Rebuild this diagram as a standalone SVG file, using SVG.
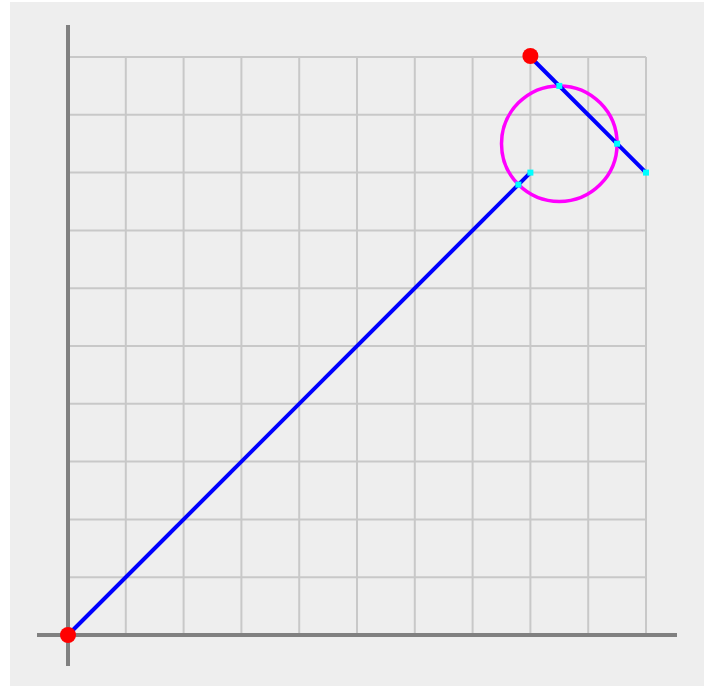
<svg xmlns="http://www.w3.org/2000/svg" width="712" height="686" viewBox="0 0 712 686">
<style>
.grid line{stroke:#c8c8c8;stroke-width:2}
.axis{stroke:#808080;stroke-width:4}
.seg{stroke:#0000ff;stroke-width:4;stroke-linecap:butt}
.pt{fill:#00ffff}
.end{fill:#ff0000}
</style>
<rect x="0" y="0" width="712" height="686" fill="#ffffff"/>
<rect x="10" y="2" width="694" height="684" fill="#eeeeee"/>
<g class="grid">
<line x1="125.8" y1="57" x2="125.8" y2="635"/>
<line x1="183.6" y1="57" x2="183.6" y2="635"/>
<line x1="241.4" y1="57" x2="241.4" y2="635"/>
<line x1="299.2" y1="57" x2="299.2" y2="635"/>
<line x1="357" y1="57" x2="357" y2="635"/>
<line x1="414.8" y1="57" x2="414.8" y2="635"/>
<line x1="472.6" y1="57" x2="472.6" y2="635"/>
<line x1="530.4" y1="57" x2="530.4" y2="635"/>
<line x1="588.2" y1="57" x2="588.2" y2="635"/>
<line x1="646" y1="57" x2="646" y2="635"/>
<line x1="68" y1="57" x2="646" y2="57"/>
<line x1="68" y1="114.8" x2="646" y2="114.8"/>
<line x1="68" y1="172.6" x2="646" y2="172.6"/>
<line x1="68" y1="230.4" x2="646" y2="230.4"/>
<line x1="68" y1="288.2" x2="646" y2="288.2"/>
<line x1="68" y1="346" x2="646" y2="346"/>
<line x1="68" y1="403.8" x2="646" y2="403.8"/>
<line x1="68" y1="461.6" x2="646" y2="461.6"/>
<line x1="68" y1="519.4" x2="646" y2="519.4"/>
<line x1="68" y1="577.2" x2="646" y2="577.2"/>
</g>
<g id="axes">
<line class="axis" x1="68" y1="25" x2="68" y2="666"/>
<line class="axis" x1="37" y1="635" x2="677" y2="635"/>
</g>
<g id="circle">
<circle cx="559.3" cy="143.7" r="57.8" fill="none" stroke="#ff00ff" stroke-width="3.5"/>
</g>
<g id="connectors">
<line class="seg" x1="68" y1="635" x2="530.4" y2="172.6"/>
<line class="seg" x1="530.4" y1="57" x2="646" y2="172.6" stroke-width="5"/>
</g>
<g id="points">
<rect class="pt" x="527.4" y="169.6" width="6" height="6"/>
<rect class="pt" x="515.4" y="181.6" width="6" height="6"/>
<rect class="pt" x="643" y="169.6" width="6" height="6"/>
<rect class="pt" x="556.3" y="82.9" width="6" height="6"/>
<rect class="pt" x="614.1" y="140.7" width="6" height="6"/>
<circle class="end" cx="68" cy="635" r="8"/>
<circle class="end" cx="530.4" cy="56" r="8"/>
</g>
</svg>
